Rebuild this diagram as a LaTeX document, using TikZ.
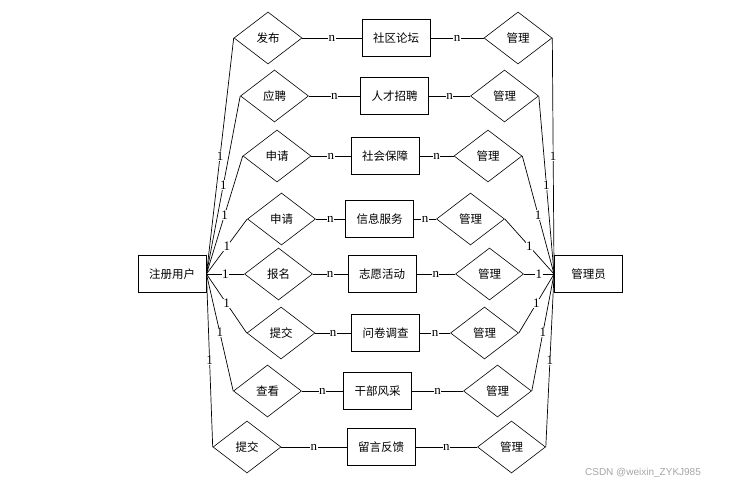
\documentclass[tikz,border=0pt]{standalone}
\usepackage{fontspec}
\setmainfont{Liberation Serif}
\newfontfamily\cjk{Noto Sans CJK SC}
\newfontfamily\wmfont{Liberation Sans}
\usetikzlibrary{shapes.geometric}
\begin{document}
\begin{tikzpicture}[x=1pt,y=-1pt,
  ent/.style={draw, line width=0.9pt, minimum width=68pt, minimum height=37pt, inner sep=0pt,
    font=\cjk\fontsize{11.5}{12}\selectfont},
  rel/.style={draw, diamond, shape aspect=1.3, minimum width=68pt, minimum height=52pt, inner sep=0pt,
    line width=0.6pt, font=\cjk\fontsize{11.5}{12}\selectfont},
  conn/.style={line width=0.7pt},
  lab/.style={fill=white, inner sep=0.4pt, font=\fontsize{13}{13}\selectfont}]
\useasboundingbox (0,0) rectangle (730,486);
\fill[white] (0,0) rectangle (730,486);
\node[ent] (u) at (172,274) {注册用户};
\node[ent] (a) at (588.5,274) {管理员};
\foreach \i/\rx/\ry/\rt/\bx/\bt/\mx in {
  1/268/38/发布/396/社区论坛/518,
  2/274.5/96/应聘/394.5/人才招聘/504.5,
  3/277/156/申请/385/社会保障/488,
  4/281.5/219/申请/379.5/信息服务/470.5,
  5/278.5/274/报名/382/志愿活动/489.5,
  6/281/333/提交/385.5/问卷调查/484.5,
  7/267.5/391/查看/377.5/干部风采/497.5,
  8/247/447/提交/381/留言反馈/511.5} {
  \node[rel] (r\i) at (\rx,\ry) {\rt};
  \node[ent] (b\i) at (\bx,\ry) {\bt};
  \node[rel] (m\i) at (\mx,\ry) {管理};
  \draw[conn] (r\i.east) -- node[lab] {n} (b\i.west);
  \draw[conn] (b\i.east) -- node[lab] {n} (m\i.west);
  \draw[conn] (u.east) -- node[lab] {1} (r\i.west);
  \draw[conn] (m\i.east) -- node[lab] {1} (a.west);
}
\node[text=black!35, font=\wmfont\fontsize{10}{10}\selectfont, anchor=center] (wm) at (643,473) {CSDN @weixin\_ZYKJ985};
\end{tikzpicture}
\end{document}
